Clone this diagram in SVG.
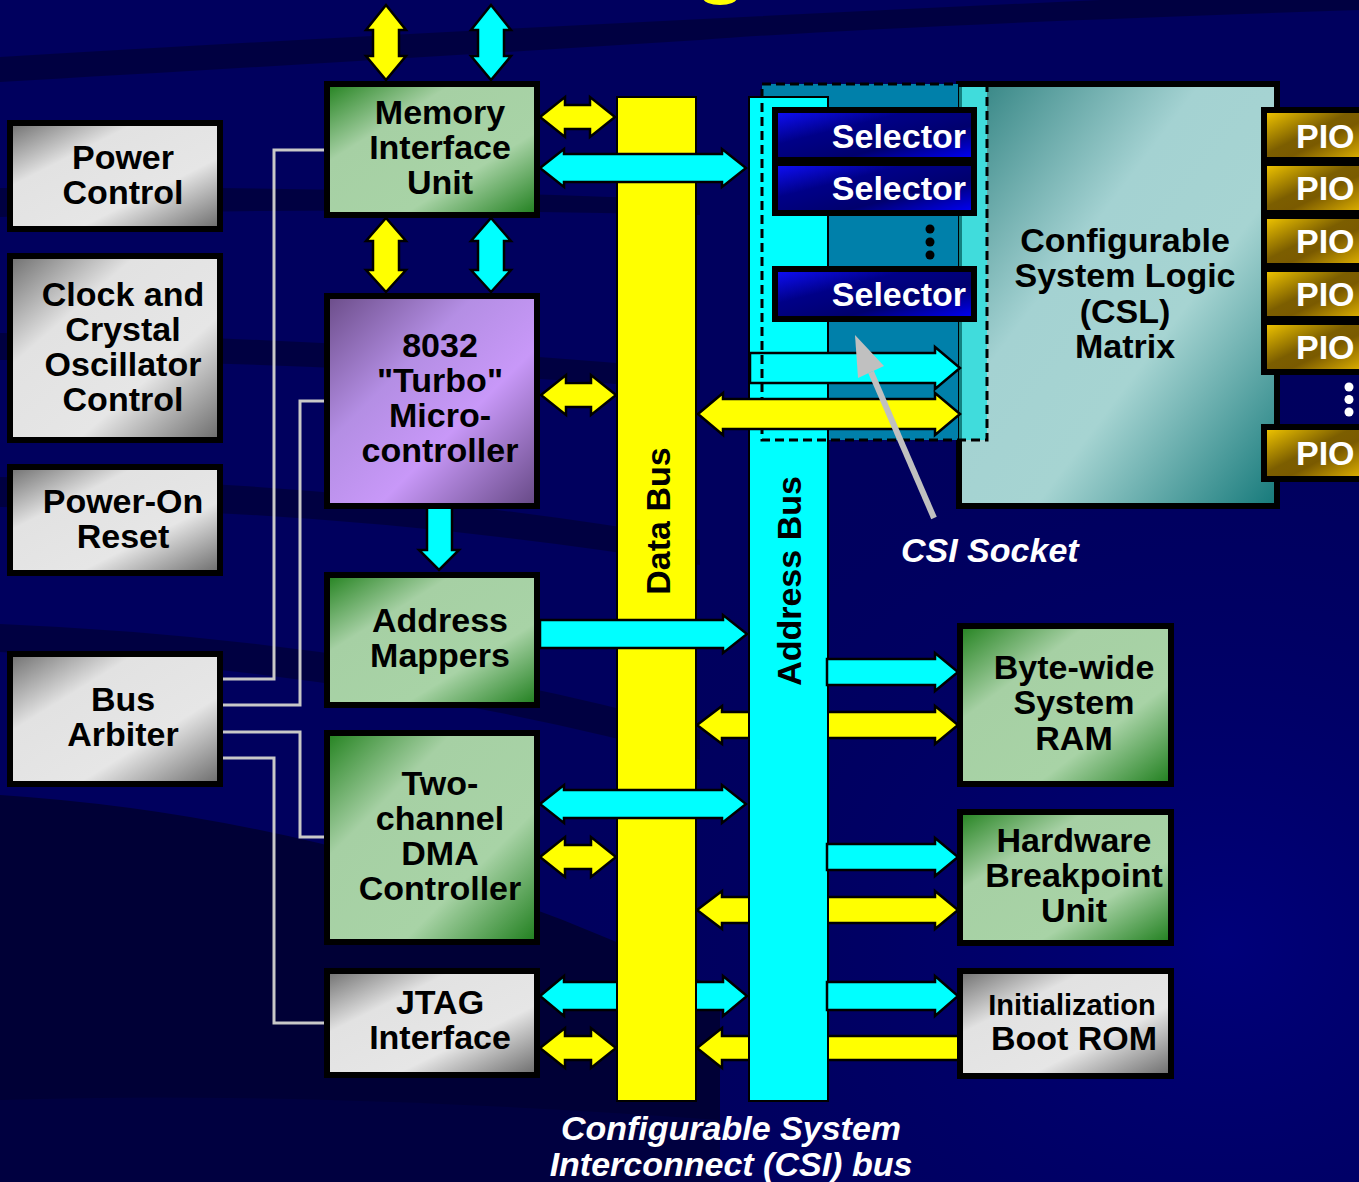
<svg xmlns="http://www.w3.org/2000/svg" width="1359" height="1182" viewBox="0 0 1359 1182">
<defs>
<linearGradient id="gGreen" x1="0" y1="0" x2="1" y2="1">
<stop offset="0" stop-color="#23821f"/><stop offset="0.3" stop-color="#a6d0a4"/><stop offset="0.68" stop-color="#a8d3a6"/><stop offset="1" stop-color="#1e7e1c"/>
</linearGradient>
<linearGradient id="gGray" x1="0" y1="0" x2="1" y2="1">
<stop offset="0" stop-color="#6e6e6e"/><stop offset="0.3" stop-color="#e2e2e2"/><stop offset="0.66" stop-color="#e6e6e6"/><stop offset="1" stop-color="#6a6a6a"/>
</linearGradient>
<linearGradient id="gPurple" x1="0" y1="0" x2="1" y2="1">
<stop offset="0" stop-color="#6a4c88"/><stop offset="0.35" stop-color="#b48ee4"/><stop offset="0.62" stop-color="#c898f8"/><stop offset="1" stop-color="#654884"/>
</linearGradient>
<linearGradient id="gCsl" x1="0" y1="0" x2="1" y2="1">
<stop offset="0" stop-color="#2c7f7e"/><stop offset="0.38" stop-color="#a4d2d2"/><stop offset="0.62" stop-color="#a6d4d2"/><stop offset="1" stop-color="#15797a"/>
</linearGradient>
<linearGradient id="gSel" x1="0" y1="0" x2="1" y2="1">
<stop offset="0" stop-color="#1010ff"/><stop offset="0.35" stop-color="#000088"/><stop offset="0.65" stop-color="#00006e"/><stop offset="1" stop-color="#0000ff"/>
</linearGradient>
<linearGradient id="gPio" x1="0" y1="0" x2="1" y2="1">
<stop offset="0" stop-color="#f8cc00"/><stop offset="0.45" stop-color="#7c5e00"/><stop offset="0.6" stop-color="#7a5a00"/><stop offset="1" stop-color="#e8b800"/>
</linearGradient>
<radialGradient id="gBgR" cx="0.9" cy="0.8" r="0.5">
<stop offset="0" stop-color="#00007a"/><stop offset="1" stop-color="#00005e" stop-opacity="0"/>
</radialGradient>
</defs>
<style>
.box{stroke:#000;stroke-width:6}
.t{font-family:"Liberation Sans",Arial,sans-serif;font-weight:bold;font-size:34px;fill:#000;text-anchor:middle}
.w{fill:#fff}
.it{font-style:italic}
.ay{fill:#ffff00;stroke:#000;stroke-width:2.5}
.ac{fill:#00ffff;stroke:#000;stroke-width:2.5}
.wire{fill:none;stroke:#c8c8c8;stroke-width:3}
.band{fill:#000038;opacity:0.75}
</style>

<!-- background -->
<rect x="0" y="0" width="1359" height="1182" fill="#00005e"/>
<rect x="0" y="0" width="1359" height="1182" fill="url(#gBgR)"/>
<path class="band" d="M0,57 Q450,30 1100,0 L1359,0 L1359,10 Q900,25 700,40 Q300,65 0,82 Z"/>
<path class="band" d="M0,188 Q300,185 700,200 L700,215 Q300,205 0,217 Z"/>
<path class="band" d="M0,333 Q300,335 700,370 L700,390 Q300,360 0,360 Z"/>
<path class="band" d="M0,477 Q350,480 700,540 L700,565 Q350,508 0,507 Z"/>
<path class="band" d="M0,624 Q380,640 700,730 L700,760 Q380,672 0,652 Z"/>
<path d="M0,795 Q380,820 720,990 L720,1182 L0,1182 Z" fill="#00002c" opacity="0.8"/>
<path d="M0,1100 Q300,1090 720,1120 L720,1182 L0,1182 Z" fill="#00004a" opacity="0.5"/>
<ellipse cx="720" cy="-2" rx="17" ry="7" fill="#ffff00"/>

<!-- connectors -->
<g id="connectors">
<polyline class="wire" points="223,679 274,679 274,150 326,150"/>
<polyline class="wire" points="223,705 300,705 300,401 326,401"/>
<polyline class="wire" points="223,732 300,732 300,837 326,837"/>
<polyline class="wire" points="223,758 274,758 274,1023 326,1023"/>
<polygon class="ac" points="540,996 564,976 564,982 723,982 723,976 747,996 723,1016 723,1010 564,1010 564,1016"/>
</g>

<!-- CSL matrix -->
<g id="csl">
<rect class="box" x="959" y="84" width="318" height="422" fill="url(#gCsl)"/>
<text class="t" x="1125" y="252">Configurable</text>
<text class="t" x="1125" y="287">System Logic</text>
<text class="t" x="1125" y="323">(CSL)</text>
<text class="t" x="1125" y="358">Matrix</text>
</g>

<!-- PIO -->
<g id="pio1"><rect class="box" x="1264" y="110" width="100" height="50" fill="url(#gPio)"/><text class="t w" x="1296" y="148" style="text-anchor:start">PIO</text></g>
<g id="pio2"><rect class="box" x="1264" y="163" width="100" height="50" fill="url(#gPio)"/><text class="t w" x="1296" y="200" style="text-anchor:start">PIO</text></g>
<g id="pio3"><rect class="box" x="1264" y="216" width="100" height="50" fill="url(#gPio)"/><text class="t w" x="1296" y="253" style="text-anchor:start">PIO</text></g>
<g id="pio4"><rect class="box" x="1264" y="269" width="100" height="50" fill="url(#gPio)"/><text class="t w" x="1296" y="306" style="text-anchor:start">PIO</text></g>
<g id="pio5"><rect class="box" x="1264" y="322" width="100" height="50" fill="url(#gPio)"/><text class="t w" x="1296" y="359" style="text-anchor:start">PIO</text></g>
<g id="pio6"><rect class="box" x="1264" y="427" width="100" height="52" fill="url(#gPio)"/><text class="t w" x="1296" y="465" style="text-anchor:start">PIO</text></g>
<g fill="#fff"><circle cx="1349" cy="387" r="4.5"/><circle cx="1349" cy="399.5" r="4.5"/><circle cx="1349" cy="412" r="4.5"/></g>

<!-- socket fill -->
<rect x="762" y="84" width="196" height="356" fill="#0080aa"/>
<rect x="959" y="87" width="28" height="353" fill="#40dcdc"/>
<rect x="959" y="87" width="3" height="353" fill="#138080"/>

<!-- data bus -->
<g id="data-bus">
<rect x="617" y="97" width="79" height="1004" fill="#ffff00" stroke="#000" stroke-width="2"/>
<text class="t" transform="translate(670,521) rotate(-90)">Data Bus</text>
</g>

<!-- arrows under address bus -->
<g id="connectors-2">
<polygon class="ay" points="697,725 722,706 722,712 935,712 935,706 958,725 935,744 935,738 722,738 722,744"/>
<polygon class="ay" points="697,910 722,891 722,897 935,897 935,891 958,910 935,929 935,923 722,923 722,929"/>
<polygon class="ay" points="697,1048 722,1028 722,1036 959,1036 959,1060 722,1060 722,1068"/>
</g>

<!-- address bus -->
<g id="address-bus">
<rect x="749" y="97" width="79" height="1004" fill="#00ffff" stroke="#000" stroke-width="2"/>
<text class="t" transform="translate(801,581) rotate(-90)">Address Bus</text>
</g>

<!-- arrows on top -->
<g id="connectors-3">
<polygon class="ay" points="386,5 406,30 399,30 399,56 406,56 386,80 366,56 373,56 373,30 366,30"/>
<polygon class="ac" points="491,5 511,30 504,30 504,56 511,56 491,80 471,56 478,56 478,30 471,30"/>
<polygon class="ay" points="386,218 406,241 399,241 399,270 406,270 386,292 366,270 373,270 373,241 366,241"/>
<polygon class="ac" points="491,218 511,241 504,241 504,270 511,270 491,292 471,270 478,270 478,241 471,241"/>
<polygon class="ac" points="427,507 452,507 452,550 459,550 439,570 419,550 427,550"/>
<polygon class="ay" points="540,117 565,97 565,105 590,105 590,97 615,117 590,137 590,129 565,129 565,137"/>
<polygon class="ac" points="540,168 564,149 564,154 722,154 722,149 746,168 722,187 722,182 564,182 564,187"/>
<polygon class="ay" points="541,395 566,375 566,383 591,383 591,375 616,395 591,415 591,407 566,407 566,415"/>
<polygon class="ac" points="540,620 723,620 723,615 747,634 723,653 723,648 540,648"/>
<polygon class="ac" points="540,804 564,785 564,790 722,790 722,785 746,804 722,823 722,818 564,818 564,823"/>
<polygon class="ay" points="540,857 565,837 565,845 591,845 591,837 616,857 591,877 591,869 565,869 565,877"/>
<polygon class="ay" points="540,1048 565,1028 565,1036 591,1036 591,1028 616,1048 591,1068 591,1060 565,1060 565,1068"/>
<polygon class="ac" points="750,353 935,353 935,347 960,368 935,389 935,383 750,383"/>
<polygon class="ac" points="827,659 935,659 935,653 958,672 935,691 935,685 827,685"/>
<polygon class="ac" points="827,844 935,844 935,838 958,857 935,876 935,870 827,870"/>
<polygon class="ac" points="827,982 935,982 935,976 958,996 935,1016 935,1010 827,1010"/>
</g>

<!-- socket dashed outline -->
<rect x="762" y="84" width="225" height="356" fill="none" stroke="#000" stroke-width="3" stroke-dasharray="9 5"/>
<polygon class="ay" points="698,414 723,393 723,399 935,399 935,393 960,414 935,435 935,429 723,429 723,435"/>

<!-- selectors -->
<g id="selector1"><rect class="box" x="775" y="110" width="199" height="50" fill="url(#gSel)"/><text class="t w" x="966" y="148" style="text-anchor:end">Selector</text></g>
<g id="selector2"><rect class="box" x="775" y="163" width="199" height="50" fill="url(#gSel)"/><text class="t w" x="966" y="200" style="text-anchor:end">Selector</text></g>
<g id="selector3"><rect class="box" x="775" y="269" width="199" height="50" fill="url(#gSel)"/><text class="t w" x="966" y="306" style="text-anchor:end">Selector</text></g>
<g fill="#000"><circle cx="930" cy="229" r="4.5"/><circle cx="930" cy="242" r="4.5"/><circle cx="930" cy="255" r="4.5"/></g>

<!-- CSI socket pointer -->
<g id="csi-socket-label">
<line x1="934" y1="518" x2="871" y2="372" stroke="#c0c0c0" stroke-width="6"/>
<polygon points="855,335 884,366 858,378" fill="#c0c0c0"/>
<text class="t w it" x="901" y="562" style="text-anchor:start">CSI Socket</text>
</g>

<!-- left nodes -->
<g id="power-control"><rect class="box" x="10" y="123" width="210" height="106" fill="url(#gGray)"/>
<text class="t" x="123" y="169">Power</text><text class="t" x="123" y="204">Control</text></g>
<g id="clock"><rect class="box" x="10" y="256" width="210" height="184" fill="url(#gGray)"/>
<text class="t" x="123" y="306">Clock and</text><text class="t" x="123" y="341">Crystal</text><text class="t" x="123" y="376">Oscillator</text><text class="t" x="123" y="411">Control</text></g>
<g id="power-on-reset"><rect class="box" x="10" y="467" width="210" height="106" fill="url(#gGray)"/>
<text class="t" x="123" y="513">Power-On</text><text class="t" x="123" y="548">Reset</text></g>
<g id="bus-arbiter"><rect class="box" x="10" y="654" width="210" height="130" fill="url(#gGray)"/>
<text class="t" x="123" y="711">Bus</text><text class="t" x="123" y="746">Arbiter</text></g>

<!-- middle nodes -->
<g id="miu"><rect class="box" x="327" y="84" width="210" height="131" fill="url(#gGreen)"/>
<text class="t" x="440" y="124">Memory</text><text class="t" x="440" y="159">Interface</text><text class="t" x="440" y="194">Unit</text></g>
<g id="mcu"><rect class="box" x="327" y="296" width="210" height="210" fill="url(#gPurple)"/>
<text class="t" x="440" y="357">8032</text><text class="t" x="440" y="392">"Turbo"</text><text class="t" x="440" y="427">Micro-</text><text class="t" x="440" y="462">controller</text></g>
<g id="address-mappers"><rect class="box" x="327" y="575" width="210" height="130" fill="url(#gGreen)"/>
<text class="t" x="440" y="632">Address</text><text class="t" x="440" y="667">Mappers</text></g>
<g id="dma"><rect class="box" x="327" y="733" width="210" height="209" fill="url(#gGreen)"/>
<text class="t" x="440" y="795">Two-</text><text class="t" x="440" y="830">channel</text><text class="t" x="440" y="865">DMA</text><text class="t" x="440" y="900">Controller</text></g>
<g id="jtag"><rect class="box" x="327" y="971" width="210" height="104" fill="url(#gGray)"/>
<text class="t" x="440" y="1014">JTAG</text><text class="t" x="440" y="1049">Interface</text></g>

<!-- right nodes -->
<g id="ram"><rect class="box" x="960" y="626" width="211" height="158" fill="url(#gGreen)"/>
<text class="t" x="1074" y="679">Byte-wide</text><text class="t" x="1074" y="714">System</text><text class="t" x="1074" y="750">RAM</text></g>
<g id="hbu"><rect class="box" x="960" y="812" width="211" height="131" fill="url(#gGreen)"/>
<text class="t" x="1074" y="852">Hardware</text><text class="t" x="1074" y="887">Breakpoint</text><text class="t" x="1074" y="922">Unit</text></g>
<g id="boot-rom"><rect class="box" x="960" y="971" width="211" height="105" fill="url(#gGray)"/>
<text class="t" x="1072" y="1015" style="font-size:29px">Initialization</text><text class="t" x="1074" y="1050">Boot ROM</text></g>

<!-- bus caption -->
<text class="t w it" x="731" y="1140">Configurable System</text>
<text class="t w it" x="731" y="1176">Interconnect (CSI) bus</text>
</svg>
